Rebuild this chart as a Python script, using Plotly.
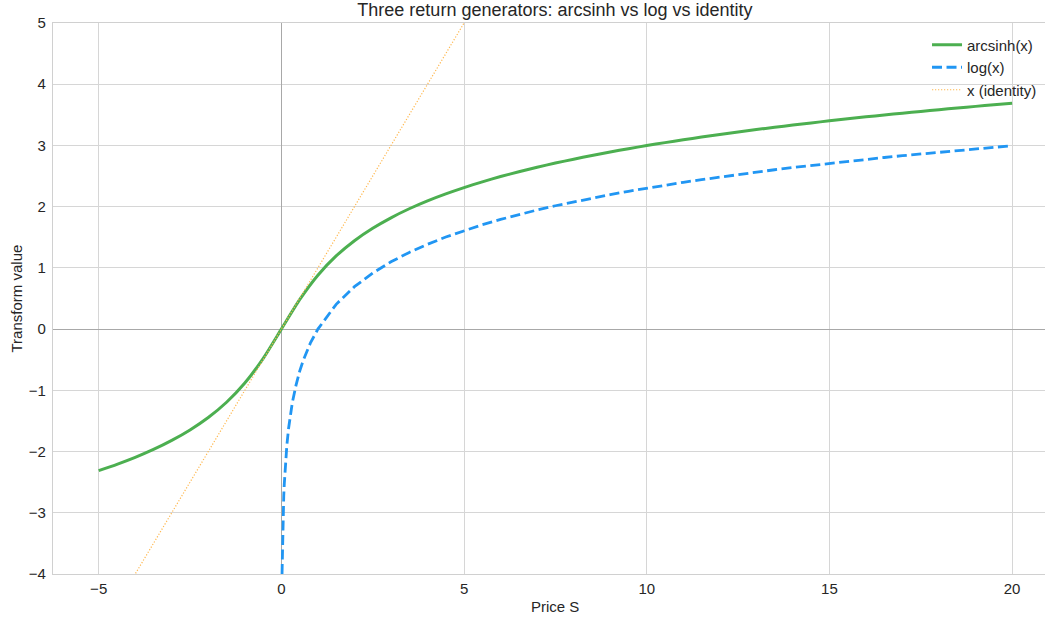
import plotly.graph_objects as go

# arcsinh(x) samples
asinh_x = [-5, -4.5, -4, -3.5, -3, -2.5, -2, -1.5, -1, -0.5, 0, 0.5, 1, 1.5, 2, 2.5, 3, 3.5, 4, 4.5,
           5, 5.5, 6, 6.5, 7, 7.5, 8, 8.5, 9, 9.5, 10, 10.5, 11, 11.5, 12, 12.5, 13, 13.5, 14, 14.5,
           15, 15.5, 16, 16.5, 17, 17.5, 18, 18.5, 19, 19.5, 20]
asinh_y = [-2.312, -2.209, -2.095, -1.966, -1.818, -1.647, -1.444, -1.195, -0.881, -0.481, 0.0,
           0.481, 0.881, 1.195, 1.444, 1.647, 1.818, 1.966, 2.095, 2.209,
           2.312, 2.406, 2.492, 2.570, 2.644, 2.712, 2.776, 2.836, 2.893, 2.947,
           2.998, 3.046, 3.093, 3.137, 3.179, 3.220, 3.259, 3.297, 3.333, 3.368,
           3.402, 3.435, 3.467, 3.498, 3.527, 3.556, 3.584, 3.611, 3.638, 3.663, 3.689]

# log(x) samples
log_x = [0.0183, 0.025, 0.03, 0.04, 0.05, 0.065, 0.08, 0.1, 0.125, 0.15, 0.2, 0.25, 0.3, 0.4, 0.5,
         0.6, 0.7, 0.8, 0.9, 1, 1.5, 2, 2.5, 3, 3.5, 4, 4.5, 5, 5.5, 6, 6.5, 7, 7.5, 8, 8.5, 9, 9.5,
         10, 10.5, 11, 11.5, 12, 12.5, 13, 13.5, 14, 14.5, 15, 15.5, 16, 16.5, 17, 17.5, 18, 18.5,
         19, 19.5, 20]
log_y = [-4.0, -3.69, -3.51, -3.22, -3.0, -2.73, -2.53, -2.30, -2.08, -1.90, -1.61, -1.39, -1.20,
         -0.92, -0.69, -0.51, -0.36, -0.22, -0.11, 0.0, 0.405, 0.693, 0.916, 1.099, 1.253, 1.386,
         1.504, 1.609, 1.705, 1.792, 1.872, 1.946, 2.015, 2.079, 2.140, 2.197, 2.251,
         2.303, 2.351, 2.398, 2.442, 2.485, 2.526, 2.565, 2.603, 2.639, 2.674, 2.708, 2.741,
         2.773, 2.803, 2.833, 2.862, 2.890, 2.918, 2.944, 2.970, 2.996]

# identity line endpoints
id_x = [-5, 20]
id_y = [-5, 20]

x_ticks = [-5, 0, 5, 10, 15, 20]
x_labels = ["\u22125", "0", "5", "10", "15", "20"]
y_ticks = [-4, -3, -2, -1, 0, 1, 2, 3, 4, 5]
y_labels = ["\u22124", "\u22123", "\u22122", "\u22121", "0", "1", "2", "3", "4", "5"]

fig = go.Figure()
fig.add_trace(go.Scatter(x=asinh_x, y=asinh_y, mode="lines", name="arcsinh(x)",
                         line=dict(color="#4caf50", width=3, shape="spline", smoothing=0.6)))
fig.add_trace(go.Scatter(x=log_x, y=log_y, mode="lines", name="log(x)",
                         line=dict(color="#2196f3", width=2.8, dash="10px,4.5px", shape="linear")))
fig.add_trace(go.Scatter(x=id_x, y=id_y, mode="lines", name="x (identity)",
                         line=dict(color="#ffb74d", width=1.2, dash="1.2px,1.8px")))

font_family = "Liberation Sans, Arial, sans-serif"
fig.update_layout(
    width=1045, height=619,
    margin=dict(l=53, r=0, t=23, b=45),
    paper_bgcolor="white", plot_bgcolor="white",
    font=dict(family=font_family, size=15, color="#262626"),
    title=dict(text="Three return generators: arcsinh vs log vs identity",
               x=0.506, xref="paper", xanchor="center",
               yref="container", y=1 - 10 / 619, yanchor="middle",
               font=dict(size=18, color="#262626")),
    showlegend=True,
    legend=dict(x=0.997, y=0.99, xanchor="right", yanchor="top",
                bgcolor="rgba(0,0,0,0)", borderwidth=0, font=dict(size=15),
                tracegroupgap=0),
    xaxis=dict(range=[-6.25, 20.9], tickvals=x_ticks, ticktext=x_labels,
               showgrid=True, gridcolor="#d6d6d6", gridwidth=1.1,
               zeroline=True, zerolinecolor="#a8a8a8", zerolinewidth=1.2,
               showline=True, linecolor="#d0d0d0", linewidth=1.2, mirror=True,
               ticks="", automargin=False, ticklabelstandoff=1,
               tickfont=dict(size=15)),
    yaxis=dict(range=[-4, 5], tickvals=y_ticks, ticktext=y_labels,
               showgrid=True, gridcolor="#d6d6d6", gridwidth=1.1,
               zeroline=True, zerolinecolor="#a8a8a8", zerolinewidth=1.2,
               showline=True, linecolor="#d0d0d0", linewidth=1.2, mirror=True,
               ticks="", automargin=False, ticklabelstandoff=3,
               tickfont=dict(size=15)),
    annotations=[
        dict(text="Price S", xref="paper", yref="paper", x=0.506, y=0, yshift=-32,
             xanchor="center", yanchor="middle", showarrow=False, font=dict(size=15)),
        dict(text="Transform value", xref="paper", yref="paper", x=0, y=0.5, xshift=-37,
             xanchor="center", yanchor="middle", textangle=-90, showarrow=False,
             font=dict(size=15)),
    ],
)

fig.write_html("out.html", post_script="document.body.style.margin='0';",
               config={"displayModeBar": False})
